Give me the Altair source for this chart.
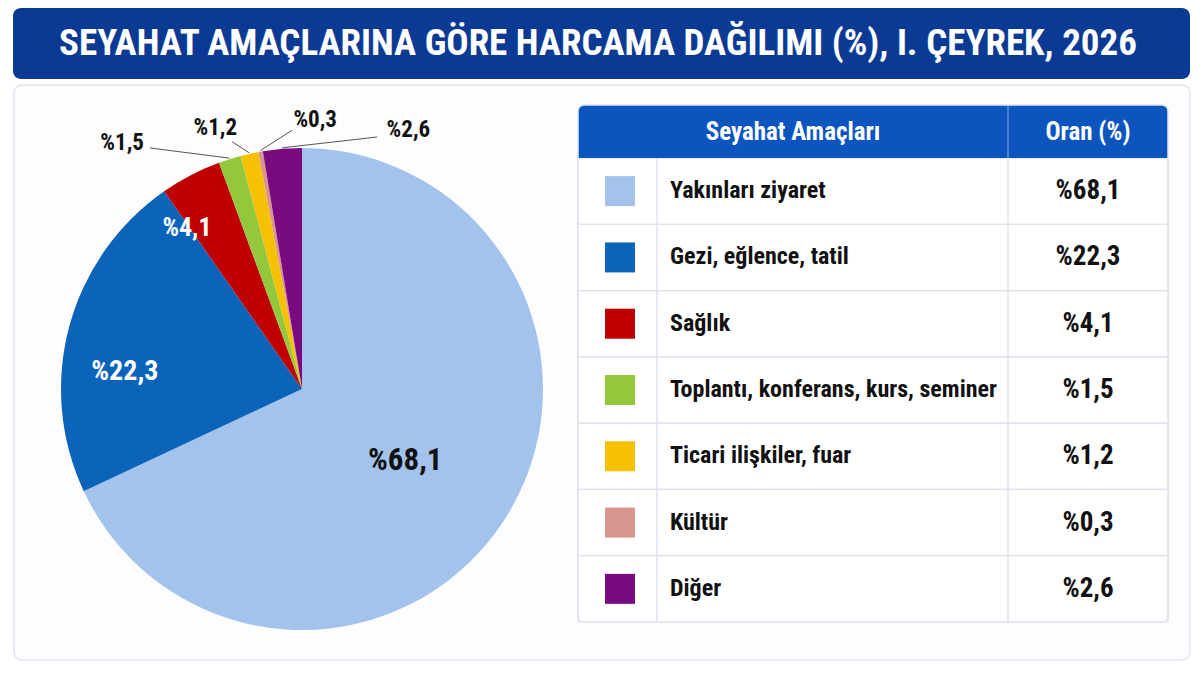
import altair as alt
import pandas as pd

# ---------------- data ----------------
categories = ["Yakınları ziyaret", "Gezi, eğlence, tatil", "Sağlık",
              "Toplantı, konferans, kurs, seminer", "Ticari ilişkiler, fuar",
              "Kültür", "Diğer"]
values = [68.1, 22.3, 4.1, 1.5, 1.2, 0.3, 2.6]
labels = ["%68,1", "%22,3", "%4,1", "%1,5", "%1,2", "%0,3", "%2,6"]
colors = ["#a3c3ec", "#0b63ba", "#c00000", "#93c83c", "#f6c100", "#d8968f", "#7a0a80"]

# ---------------- layout (not data) ----------------
label_shift = [2.5, -9.5, -8.0, -18.7, -5.8, 12.7, 27.0]      # deg offset from slice middle
label_radius = [126, 178, 198, 305, 275, 269, 280]
label_white = [False, True, True, False, False, False, False]
label_size = [31, 28, 26, 23, 23, 23, 23]
leader_shift = [0, 0, 0, -14.8, -3.2, 7.7, 21.3]
leader_radius = [0, 0, 0, 285, 257, 259, 263]
outside = [False, False, False, True, True, True, True]

CX, CY, R = 302, 389, 241
FONT = "'Liberation Sans Narrow', 'Roboto Condensed', 'DejaVu Sans Condensed', sans-serif"

df = pd.DataFrame({
    "cat": categories, "value": values, "label": labels, "order": list(range(len(values))),
    "shift": label_shift, "lr": label_radius, "white": label_white, "lsize": label_size,
    "eshift": leader_shift, "er": leader_radius, "outside": outside,
})

one = pd.DataFrame({"k": [0]})
color_scale = alt.Scale(domain=categories, range=colors)

# ---------------- frame ----------------
banner = alt.Chart(one).mark_rect(color="#0b3a94", cornerRadius=8).encode(
    x=alt.value(13), x2=alt.value(1190), y=alt.value(8), y2=alt.value(79))
title = alt.Chart(one).mark_text(
    text="SEYAHAT AMAÇLARINA GÖRE HARCAMA DAĞILIMI (%), I. ÇEYREK, 2026",
    font=FONT, fontSize=37, fontWeight="bold", color="white", align="center", baseline="middle"
).encode(x=alt.value(598), y=alt.value(44))
panel = alt.Chart(one).mark_rect(fill="#fdfdfe", stroke="#e1e5ef", strokeWidth=1.5, cornerRadius=8).encode(
    x=alt.value(14), x2=alt.value(1190), y=alt.value(85), y2=alt.value(660))

# ---------------- pie ----------------
base = alt.Chart(df)
arc = base.mark_arc(outerRadius=R).encode(
    theta=alt.Theta("value:Q", stack=True),
    color=alt.Color("cat:N", scale=color_scale, legend=None),
    order=alt.Order("order:Q"),
    x=alt.value(CX), y=alt.value(CY),
)

geo = base.transform_joinaggregate(total="sum(value)").transform_window(
    cum="sum(value)", sort=[alt.SortField("order")], frame=[None, 0]
).transform_calculate(
    mid="(datum.cum - datum.value/2) / datum.total * 2 * PI"
).transform_calculate(
    lx=f"{CX} + datum.lr * sin(datum.mid + datum.shift * PI / 180)",
    ly=f"{CY} - datum.lr * cos(datum.mid + datum.shift * PI / 180)",
    sx=f"{CX} + {R + 1} * sin(datum.mid)",
    sy=f"{CY} - {R + 1} * cos(datum.mid)",
    ex=f"{CX} + datum.er * sin(datum.mid + datum.eshift * PI / 180)",
    ey=f"{CY} - datum.er * cos(datum.mid + datum.eshift * PI / 180)",
)

leaders = geo.transform_filter("datum.outside").mark_rule(color="#555555", strokeWidth=1).encode(
    x=alt.X("sx:Q", scale=None), y=alt.Y("sy:Q", scale=None),
    x2="ex:Q", y2="ey:Q")

pie_text = geo.mark_text(font=FONT, fontWeight="bold", align="center", baseline="middle").encode(
    x=alt.X("lx:Q", scale=None), y=alt.Y("ly:Q", scale=None),
    text="label:N",
    size=alt.Size("lsize:Q", scale=None, legend=None),
    color=alt.condition("datum.white", alt.value("white"), alt.value("#111111")),
)

# ---------------- table ----------------
TX0, TX1, TY0, THEAD, TY1 = 578, 1168, 105, 158, 622
ty = alt.Y("cat:N", sort=categories,
           scale=alt.Scale(type="band", domain=categories, range=[THEAD, TY1], paddingInner=0, paddingOuter=0),
           axis=None)

table_bg = alt.Chart(one).mark_rect(fill="white", cornerRadius=6).encode(
    x=alt.value(TX0), x2=alt.value(TX1), y=alt.value(TY0), y2=alt.value(TY1))
rows = base.mark_rect(filled=False, stroke="#dfe3ee", strokeWidth=1.2).encode(
    x=alt.value(TX0), x2=alt.value(TX1), y=ty)
table_border = alt.Chart(one).mark_rect(filled=False, stroke="#dfe3ee", strokeWidth=1.5, cornerRadius=6).encode(
    x=alt.value(TX0), x2=alt.value(TX1), y=alt.value(TY0), y2=alt.value(TY1))
header = alt.Chart(one).mark_rect(fill="#0c55bf", cornerRadiusTopLeft=6, cornerRadiusTopRight=6).encode(
    x=alt.value(TX0), x2=alt.value(TX1), y=alt.value(TY0), y2=alt.value(THEAD))
div1 = alt.Chart(one).mark_rule(color="#dfe3ee", strokeWidth=1.5).encode(
    x=alt.value(657), y=alt.value(THEAD), y2=alt.value(TY1))
div2 = alt.Chart(one).mark_rule(color="#dfe3ee", strokeWidth=1.5).encode(
    x=alt.value(1008), y=alt.value(THEAD), y2=alt.value(TY1))
div2h = alt.Chart(one).mark_rule(color="#5d8fd8", strokeWidth=1.5).encode(
    x=alt.value(1008), y=alt.value(TY0), y2=alt.value(THEAD))
h1 = alt.Chart(one).mark_text(text="Seyahat Amaçları", font=FONT, fontSize=25, fontWeight="bold",
                              color="white", align="center", baseline="middle").encode(
    x=alt.value(793), y=alt.value(132))
h2 = alt.Chart(one).mark_text(text="Oran (%)", font=FONT, fontSize=25, fontWeight="bold",
                              color="white", align="center", baseline="middle").encode(
    x=alt.value(1088), y=alt.value(132))

swatch = base.mark_square(size=900, opacity=1).encode(
    x=alt.value(620), y=ty, color=alt.Color("cat:N", scale=color_scale, legend=None))
names = base.mark_text(font=FONT, fontSize=24, fontWeight="bold", color="#111111",
                       align="left", baseline="middle").encode(
    x=alt.value(670), y=ty, text="cat:N")
vals = base.mark_text(font=FONT, fontSize=27, fontWeight="bold", color="#111111",
                      align="center", baseline="middle").encode(
    x=alt.value(1088), y=ty, text="label:N")

chart = alt.layer(
    banner, title, panel,
    arc, leaders, pie_text,
    table_bg, rows, header, div1, div2, div2h, table_border, h1, h2, swatch, names, vals,
).resolve_scale(x="independent", y="independent").properties(
    width=1200, height=675, autosize="none", padding=0, background="white"
).configure_view(stroke=None)

chart.save("out.html", embed_options={"renderer": "svg", "actions": False})
